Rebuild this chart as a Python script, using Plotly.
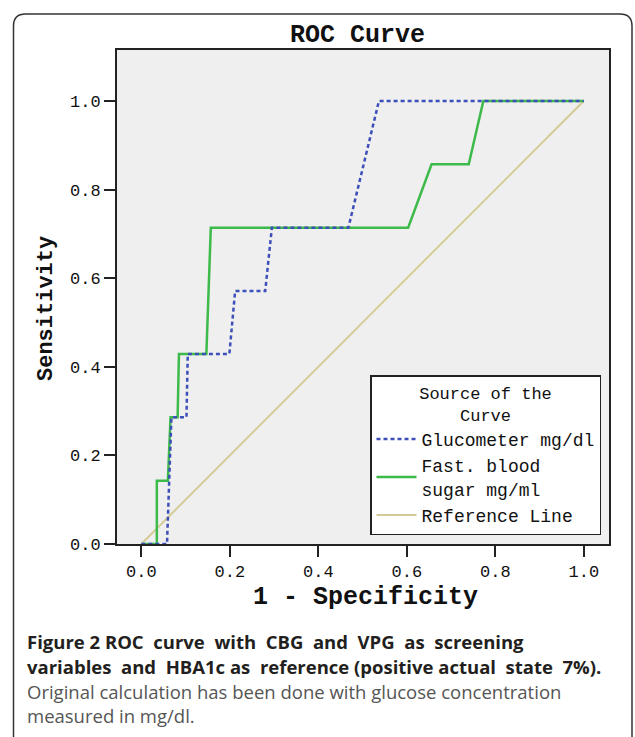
import plotly.graph_objects as go

# ---- data ----
fbs_fpr = [0.0, 0.035, 0.035, 0.060, 0.066, 0.082, 0.085, 0.147, 0.157, 0.603, 0.656, 0.740, 0.773, 1.0]
fbs_tpr = [0.0, 0.0, 0.143, 0.143, 0.286, 0.286, 0.429, 0.429, 0.714, 0.714, 0.857, 0.857, 1.0, 1.0]

glu_fpr = [0.0, 0.058, 0.068, 0.102, 0.105, 0.199, 0.212, 0.280, 0.295, 0.468, 0.537, 1.0]
glu_tpr = [0.0, 0.0, 0.286, 0.286, 0.429, 0.429, 0.571, 0.571, 0.714, 0.714, 1.0, 1.0]

ref_x = [0.0, 1.0]
ref_y = [0.0, 1.0]

tick_vals = [0.0, 0.2, 0.4, 0.6, 0.8, 1.0]
tick_text = ["0.0", "0.2", "0.4", "0.6", "0.8", "1.0"]

names = ["Glucometer mg/dl", "Fast. blood<br>sugar mg/ml", "Reference Line"]

MONO = "Courier New, Liberation Mono, monospace"
CAP = "Open Sans, Lato, sans-serif"

W, H = 635, 737
L, R, T, B = 117, 26, 50, 193
PW = W - L - R
PH = H - T - B


def px(x):
    return (x - L) / PW


def py(y):
    return (H - B - y) / PH


fig = go.Figure()
fig.add_trace(go.Scatter(x=ref_x, y=ref_y, mode="lines", name=names[2], legendrank=3,
                         line=dict(color="#d4cc96", width=2)))
fig.add_trace(go.Scatter(x=fbs_fpr, y=fbs_tpr, mode="lines", name=names[1], legendrank=2,
                         line=dict(color="#3dba4a", width=2.5)))
fig.add_trace(go.Scatter(x=glu_fpr, y=glu_tpr, mode="lines", name=names[0], legendrank=1,
                         line=dict(color="#3d4fb8", width=2.5, dash="4px,3px")))

axis_common = dict(
    tickvals=tick_vals, ticktext=tick_text, ticks="outside", ticklen=11, tickwidth=2,
    tickcolor="#222", showline=True, linewidth=2, linecolor="#222", mirror=True,
    showgrid=False, zeroline=False, tickfont=dict(family=MONO, size=17, color="#111"),
)

fig.update_layout(
    width=W, height=H,
    margin=dict(l=L, r=R, t=T, b=B),
    paper_bgcolor="white", plot_bgcolor="#efefef",
    xaxis=dict(range=[-0.055, 1.057], **axis_common),
    yaxis=dict(range=[0, 1.115], **axis_common),
    showlegend=True,
    legend=dict(
        title=dict(text="Source of the<br>&nbsp;&nbsp;&nbsp;&nbsp;Curve", side="top center",
                   font=dict(family=MONO, size=17, color="#111")),
        font=dict(family=MONO, size=18, color="#111"),
        bgcolor="white", bordercolor="#222", borderwidth=1.5,
        x=px(601), xanchor="right", y=py(535), yanchor="bottom",
        itemwidth=40, tracegroupgap=0,
    ),
)

# Title and axis titles as annotations for exact placement
fig.add_annotation(text="<b>ROC Curve</b>", x=px(357), y=py(35), xref="paper", yref="paper",
                   showarrow=False, xanchor="center", yanchor="middle",
                   font=dict(family=MONO, size=25, color="#111"))
fig.add_annotation(text="<b>1 - Specificity</b>", x=px(365), y=py(597), xref="paper", yref="paper",
                   showarrow=False, xanchor="center", yanchor="middle",
                   font=dict(family=MONO, size=25, color="#111"))
fig.add_annotation(text="<b>Sensitivity</b>", x=px(46), y=py(309), xref="paper", yref="paper",
                   showarrow=False, xanchor="center", yanchor="middle", textangle=-90,
                   font=dict(family=MONO, size=22, color="#111"))

# Caption
NB = "&nbsp;"
line1 = ("<b>Figure 2 ROC" + NB + " curve" + NB + " with" + NB + " CBG" + NB + " and" + NB +
         " VPG" + NB + " as" + NB + " screening</b>")
line2 = ("<b>variables" + NB + " and" + NB + " HBA1c as" + NB + " reference (positive actual" + NB +
         " state" + NB + " 7%).</b>")
cap_lines = [
    (line1, 641, "#231f20"),
    (line2, 666, "#231f20"),
    ("Original calculation has been done with glucose concentration", 691, "#555555"),
    ("measured in mg/dl.", 715, "#555555"),
]
for txt, yy, col in cap_lines:
    fig.add_annotation(text=txt, x=px(25), y=py(yy), xref="paper", yref="paper",
                       showarrow=False, xanchor="left", yanchor="middle", align="left",
                       font=dict(family=CAP, size=18.5, color=col))

# Outer rounded border of the figure panel
lft, top, rgt, bot, r = 13.5, 14, 632, 760, 12
path = (f"M {px(lft)},{py(bot)} L {px(lft)},{py(top + r)} "
        f"Q {px(lft)},{py(top)} {px(lft + r)},{py(top)} "
        f"L {px(rgt - r)},{py(top)} Q {px(rgt)},{py(top)} {px(rgt)},{py(top + r)} "
        f"L {px(rgt)},{py(bot)}")
fig.add_shape(type="path", path=path, xref="paper", yref="paper",
              line=dict(color="#333", width=1.5), layer="above")

fig.write_html("out.html", config={"displayModeBar": False},
               post_script="document.body.style.margin='0';document.body.style.overflow='hidden';")
